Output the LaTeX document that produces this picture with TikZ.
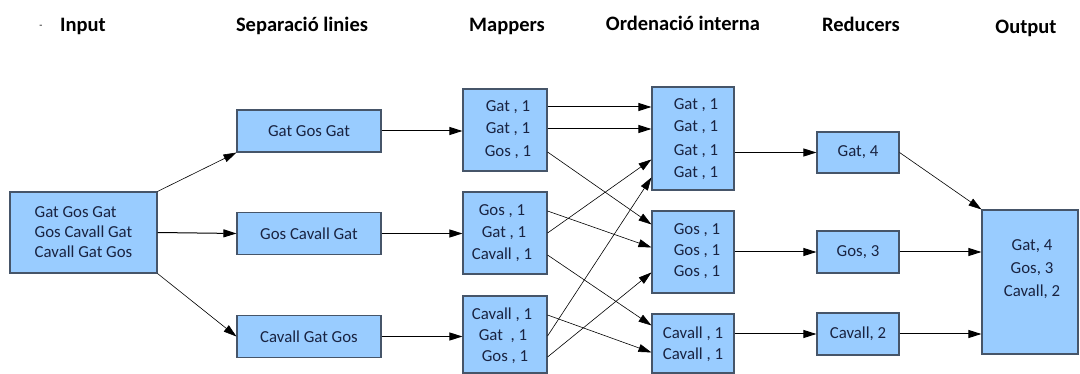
\documentclass[tikz,border=0pt]{standalone}
\usepackage{fontspec}
\setmainfont{Carlito}
\usetikzlibrary{arrows.meta,calc,positioning}
\definecolor{boxfill}{RGB}{153,204,255}
\definecolor{boxline}{RGB}{70,85,105}
\definecolor{wordc}{RGB}{25,35,65}
\tikzset{link/.style={-{Triangle[length=13pt,width=8pt]}, line width=1pt},
  thinlink/.style={link, line width=0.6pt},
  blk/.style={draw=boxline, fill=boxfill, line width=1.1pt, inner sep=0pt, text=wordc,
    font=\fontsize{16.8}{20}\selectfont, align=center},
  row/.style={text=wordc, inner sep=0pt, font=\fontsize{16.8}{20}\selectfont},
  hdr/.style={anchor=base, font=\bfseries\fontsize{20.5}{24}\selectfont}}

\begin{document}
\begin{tikzpicture}[x=1pt, y=-1pt]
  \useasboundingbox (0,0) rectangle (1080,374);
  % column titles
  \node (dash) at (41,27) {-};
  \node[hdr] (hin) at (83,32) {Input};
  \node[hdr] (hsep) at (302,32) {Separació linies};
  \node[hdr] (hmap) at (507,32) {Mappers};
  \node[hdr] (hord) at (683,31) {Ordenació interna};
  \node[hdr] (hred) at (861,32) {Reducers};
  \node[hdr] (hout) at (1026,33.5) {Output};
  % input and line split
  \node[blk, minimum width=147pt, minimum height=81pt, align=left] (in) at (83.5,232.5)
    {Gat Gos Gat\\Gos Cavall Gat\\Cavall Gat Gos};
  \node[blk, minimum width=144pt, minimum height=42pt] (s1) at (309,131) {Gat Gos Gat};
  \node[blk, minimum width=144pt, minimum height=42pt] (s2) at (309,233.5) {Gos Cavall Gat};
  \node[blk, minimum width=144pt, minimum height=42pt] (s3) at (309,336.5) {Cavall Gat Gos};
  % mappers
  \node[blk, minimum width=84pt, minimum height=82pt] (m1) at (505,130) {};
  \node[blk, minimum width=84pt, minimum height=82pt] (m2) at (505,233) {};
  \node[blk, minimum width=84pt, minimum height=77pt] (m3) at (505,334.5) {};
  \node[row] (m1a) at (508,107) {Gat , 1};
  \node[row] (m1b) at (508,129) {Gat , 1};
  \node[row] (m1c) at (508,152) {Gos , 1};
  \node[row] (m2a) at (502,211) {Gos , 1};
  \node[row] (m2b) at (504,233) {Gat , 1};
  \node[row] (m2c) at (502,255) {Cavall , 1};
  \node[row] (m3a) at (502,315) {Cavall , 1};
  \node[row] (m3b) at (503,336) {Gat \ , 1};
  \node[row] (m3c) at (505,357) {Gos , 1};
  % sorted groups
  \node[blk, minimum width=82pt, minimum height=103pt] (o1) at (693,138.5) {};
  \node[blk, minimum width=82pt, minimum height=82pt] (o2) at (693,252) {};
  \node[blk, minimum width=82pt, minimum height=59pt] (o3) at (693,343.5) {};
  \foreach \y [count=\k] in {105,127,151,173}
    \node[row] (o1\k) at (696,\y) {Gat , 1};
  \foreach \y [count=\k] in {230,251,272}
    \node[row] (o2\k) at (697,\y) {Gos , 1};
  \foreach \y [count=\k] in {334,355}
    \node[row] (o3\k) at (693,\y) {Cavall , 1};
  % reducers and output
  \node[blk, minimum width=82pt, minimum height=41pt] (r1) at (858,152.5) {Gat, 4};
  \node[blk, minimum width=82pt, minimum height=42pt] (r2) at (858,252) {Gos, 3};
  \node[blk, minimum width=82pt, minimum height=42pt] (r3) at (858,334) {Cavall, 2};
  \node[blk, minimum width=96pt, minimum height=144pt] (out) at (1030,282) {};
  \node[row, align=center, font=\fontsize{16.8}{23}\selectfont] (outtxt) at (1032,269)
    {Gat, 4\\Gos, 3\\Cavall, 2};
  % connectors
  \draw[thinlink] (in.north east) -- (s1.south west);
  \draw[link] (in.east) -- (s2.west);
  \draw[thinlink] (in.south east) -- (s3.west);
  \foreach \i in {1,2,3}
    \draw[link] (s\i.east) -- (s\i.east -| m\i.west);
  \draw[link] (m1.east |- m1a) -- (o1.west |- m1a);
  \draw[link] (m1.east |- m1b) -- (o1.west |- m1b);
  \foreach \m/\r/\o/\d in {m1/m1c/o2/14, m2/m2a/o2/37, m2/m2b/o1/73, m2/m2c/o3/12,
      m3/m3a/o3/39, m3/m3b/o1/91, m3/m3c/o2/62}
    \draw[thinlink] (\m.east |- \r) -- ($(\o.north west)+(0,\d)$);
  \foreach \i in {1,2,3}
    \draw[link] (o\i.east |- r\i) -- (r\i.west);
  \draw[thinlink] (r1.east) -- (out.north west);
  \draw[link] (r2.east) -- (out.west |- r2);
  \draw[link] (r3.east) -- (out.west |- r3);
\end{tikzpicture}
\end{document}
